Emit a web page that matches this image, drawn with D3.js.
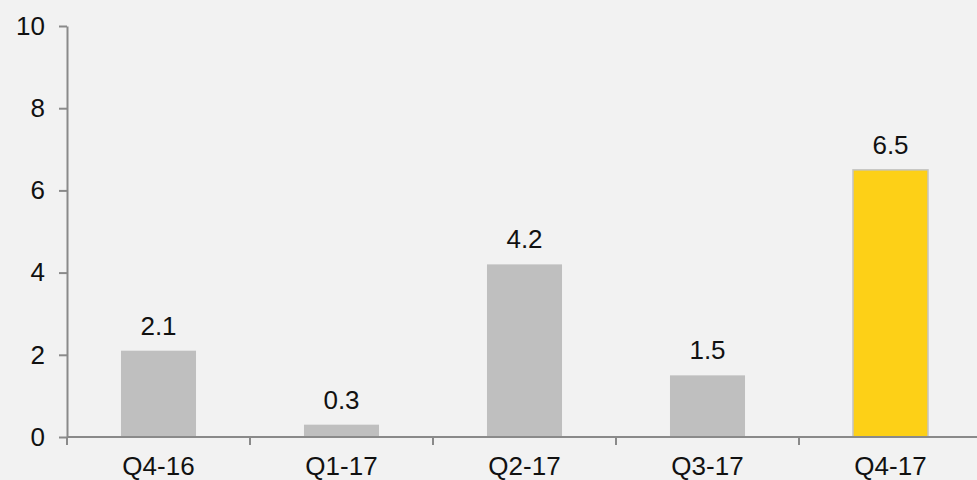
<!DOCTYPE html>
<html>
<head>
<meta charset="utf-8">
<script src="https://cdn.jsdelivr.net/npm/d3@7"></script>
<style>
  html, body { margin: 0; padding: 0; background: #f2f2f2; }
  svg { display: block; }
  text { font-family: "Liberation Sans", Arial, sans-serif; fill: #111; }
</style>
</head>
<body>
<svg id="chart" width="977" height="480"></svg>
<script>
// Quarterly values
const categories = ["Q4-16", "Q1-17", "Q2-17", "Q3-17", "Q4-17"];
const values = [2.1, 0.3, 4.2, 1.5, 6.5];
const highlight = ["Q4-17"];
const yTicks = [0, 2, 4, 6, 8, 10];

const svg = d3.select("#chart");
const plotLeft = 67, plotRight = 982, plotTop = 26, plotBottom = 437;

const x = d3.scaleBand()
  .domain(categories)
  .range([plotLeft, plotRight])
  .paddingInner(0.59)
  .paddingOuter(0.295);

const y = d3.scaleLinear().domain([0, 10]).range([plotBottom, plotTop]);

const axisColor = "#8a8a8a";

// bars
svg.append("g")
  .selectAll("rect")
  .data(categories)
  .join("rect")
  .attr("x", d => x(d))
  .attr("width", x.bandwidth())
  .attr("y", (d, i) => y(values[i]))
  .attr("height", (d, i) => y(0) - y(values[i]))
  .attr("fill", d => highlight.includes(d) ? "#fdd017" : "#bfbfbf")
  .attr("stroke", d => highlight.includes(d) ? "#c4c4c4" : "none")
  .attr("stroke-width", 1.5);

// value labels
svg.append("g")
  .selectAll("text")
  .data(categories)
  .join("text")
  .attr("x", d => x(d) + x.bandwidth() / 2)
  .attr("y", (d, i) => y(values[i]) - 16)
  .attr("text-anchor", "middle")
  .style("font-size", "26px")
  .text((d, i) => values[i].toFixed(1));

// y axis
const yAxis = svg.append("g")
  .attr("transform", `translate(${plotLeft},0)`)
  .call(d3.axisLeft(y).tickValues(yTicks).tickSize(8).tickPadding(14).tickSizeOuter(0));
yAxis.select(".domain").attr("stroke", axisColor).attr("stroke-width", 2);
yAxis.selectAll(".tick line").attr("stroke", axisColor).attr("stroke-width", 2);
yAxis.selectAll(".tick text")
  .style("font-size", "26px")
  .style("font-family", "'Liberation Sans', Arial, sans-serif")
  .attr("fill", "#111");

// x axis with ticks at band boundaries
const xAxis = svg.append("g").attr("transform", `translate(0,${plotBottom})`);
xAxis.append("line")
  .attr("x1", plotLeft).attr("x2", plotRight)
  .attr("stroke", axisColor).attr("stroke-width", 2);
const step = x.step();
const boundaries = d3.range(categories.length + 1).map(i => plotLeft + i * step);
xAxis.selectAll("line.tick")
  .data(boundaries)
  .join("line")
  .attr("class", "tick")
  .attr("x1", d => d).attr("x2", d => d)
  .attr("y1", 0).attr("y2", 8)
  .attr("stroke", axisColor).attr("stroke-width", 2);
xAxis.selectAll("text")
  .data(categories)
  .join("text")
  .attr("x", d => x(d) + x.bandwidth() / 2)
  .attr("y", 38)
  .attr("text-anchor", "middle")
  .style("font-size", "26px")
  .text(d => d);
</script>
</body>
</html>
